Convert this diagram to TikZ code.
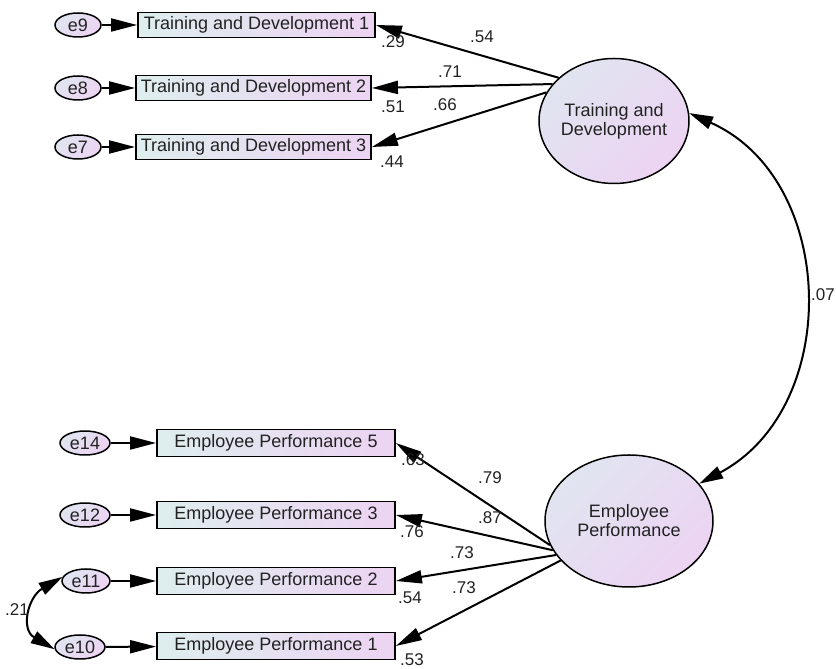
\documentclass[tikz,border=0pt]{standalone}
\usepackage{fontspec}
\setmainfont{Liberation Sans}
\usetikzlibrary{arrows.meta,shapes.geometric}
\definecolor{boxL}{RGB}{222,238,238}
\definecolor{boxR}{RGB}{237,211,243}
\definecolor{ovL}{RGB}{224,229,240}
\definecolor{ovR}{RGB}{237,211,243}
\definecolor{txt}{RGB}{34,34,34}
\tikzset{
  obs/.style={draw,line width=1.8pt,left color=boxL,right color=boxR,minimum height=25pt,inner sep=0pt,text=txt,font=\fontsize{18}{20}\selectfont},
  lat/.style={draw,ellipse,line width=1.5pt,top color=ovL,bottom color=ovR,shading angle=45,inner sep=0pt,align=center,text=txt,font=\fontsize{18}{19}\selectfont},
  err/.style={draw,ellipse,line width=1.5pt,top color=ovL,bottom color=ovR,shading angle=45,minimum width=46pt,minimum height=24pt,inner sep=0pt,text=txt,font=\fontsize{18}{19}\selectfont},
  coef/.style={text=txt,inner sep=0pt,font=\fontsize{17}{19}\selectfont},
  path/.style={line width=2pt,-{Triangle[length=26pt,width=13pt]}},
  cov/.style={line width=2pt,{Triangle[length=24pt,width=13pt]}-{Triangle[length=24pt,width=13pt]}}
}
\begin{document}
\begin{tikzpicture}[x=1pt,y=1pt]
  \useasboundingbox (0,0) rectangle (836,669);

  \node[lat,minimum width=148pt,minimum height=125pt] (TD) at (614,548) {Training and\\Development};
  \node[lat,minimum width=168pt,minimum height=132pt] (EP) at (629,148) {Employee\\Performance};

  \node[obs,minimum width=237pt] (td1) at (256.5,644) {Training and Development 1};
  \node[obs,minimum width=235pt] (td2) at (253.5,581) {Training and Development 2};
  \node[obs,minimum width=235pt] (td3) at (253.5,522) {Training and Development 3};
  \node[err] (e9) at (78,644) {e9};
  \node[err] (e8) at (78,581) {e8};
  \node[err] (e7) at (78,522) {e7};

  \node[obs,minimum width=238pt,minimum height=27pt] (ep5) at (276,226) {Employee Performance 5};
  \node[obs,minimum width=238pt,minimum height=27pt] (ep3) at (276,154) {Employee Performance 3};
  \node[obs,minimum width=238pt,minimum height=27pt] (ep2) at (276,88) {Employee Performance 2};
  \node[obs,minimum width=238pt,minimum height=27pt] (ep1) at (276,23) {Employee Performance 1};
  \node[err,minimum width=50pt] (e14) at (85,226) {e14};
  \node[err,minimum width=50pt] (e12) at (85,154) {e12};
  \node[err,minimum width=48pt] (e11) at (86,88) {e11};
  \node[err,minimum width=50pt] (e10) at (80,22) {e10};

  \draw[path] (e9) -- (td1);
  \draw[path] (e8) -- (td2);
  \draw[path] (e7) -- (td3);
  \draw[path] (e14) -- (ep5);
  \draw[path] (e12) -- (ep3);
  \draw[path] (e11) -- (ep2);
  \draw[path] (e10) -- (ep1);

  \draw[path] (TD.142) -- (td1.east);
  \draw[path] (TD.149) -- (td2.east);
  \draw[path] (TD.157) -- (td3.east);
  \draw[path] (EP.197) -- (ep5.east);
  \draw[path] (EP.201) -- (ep3.east);
  \draw[path] (EP.205) -- (ep2.east);
  \draw[path] (EP.210) -- (ep1.east);

  \draw[cov] (TD.6) to[out=-24,in=28,looseness=1.12] (EP.28);
  \draw[cov] (e11.170) to[out=210,in=150,looseness=1.4] (e10.185);

  \node[coef] (c1) at (482,632) {.54};
  \node[coef] (c2) at (450,597) {.71};
  \node[coef] (c3) at (445,564) {.66};
  \node[coef] (r1) at (393,627) {.29};
  \node[coef] (r2) at (393,562) {.51};
  \node[coef] (r3) at (392,507) {.44};
  \node[coef] (c4) at (490,191) {.79};
  \node[coef] (c5) at (490,151) {.87};
  \node[coef] (c6) at (462,116) {.73};
  \node[coef] (c7) at (464,81) {.73};
  \node[coef] (r4) at (413,209) {.63};
  \node[coef] (r5) at (412,137) {.76};
  \node[coef] (r6) at (410,71) {.54};
  \node[coef] (r7) at (412,9) {.53};
  \node[coef] (k1) at (17,59) {.21};
  \node[coef,anchor=east] (k2) at (835,374) {.07};
\end{tikzpicture}
\end{document}
